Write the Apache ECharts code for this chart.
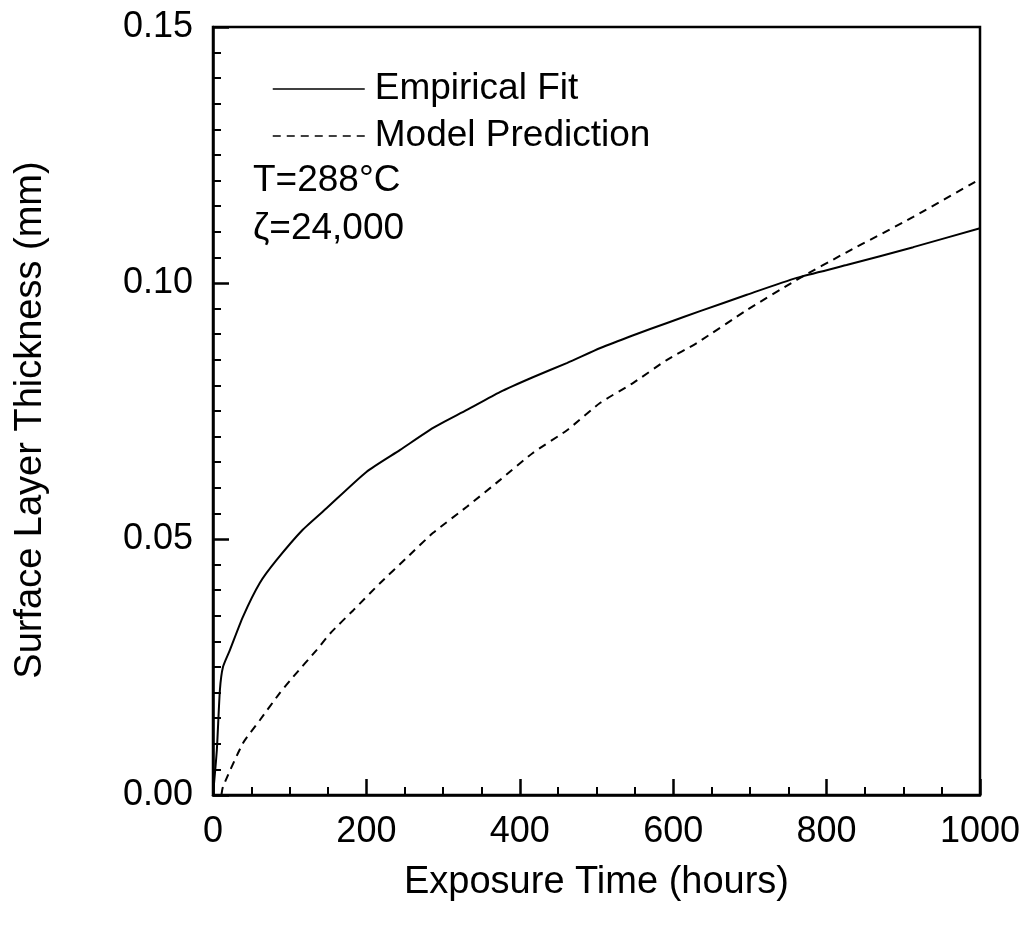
<!DOCTYPE html>
<html>
<head>
<meta charset="utf-8">
<script src="https://cdn.jsdelivr.net/npm/echarts@6/dist/echarts.min.js"></script>
<style>
html,body{margin:0;padding:0;background:#fff;}
#chart{width:1029px;height:931px;}
</style>
</head>
<body>
<div id="chart"></div>
<script>
// Empirical fit (solid): [hours, mm]
const empiricalT = [0, 5, 9, 13, 22, 39, 61, 83, 117, 148, 200, 244, 287, 331, 374, 417, 462, 505, 548, 592, 635, 696, 761, 826, 913, 1000];
const empiricalV = [0, 0.0088, 0.0205, 0.025, 0.0283, 0.0348, 0.0414, 0.0459, 0.0518, 0.056, 0.0631, 0.0674, 0.0717, 0.0752, 0.0787, 0.0816, 0.0844, 0.0873, 0.0898, 0.0922, 0.0945, 0.0977, 0.101, 0.1035, 0.107, 0.1107];
// Model prediction (dashed): [hours, mm]
const modelT = [11, 13, 39, 61, 87, 104, 135, 153, 183, 218, 253, 287, 331, 374, 417, 462, 505, 548, 592, 631, 696, 761, 826, 913, 1000];
const modelV = [0, 0.0016, 0.0101, 0.0146, 0.0199, 0.023, 0.0283, 0.0316, 0.0361, 0.0414, 0.0464, 0.0512, 0.0563, 0.0615, 0.0668, 0.0713, 0.0766, 0.0805, 0.085, 0.0883, 0.0947, 0.1006, 0.106, 0.1129, 0.1203];
const seriesNames = ['Empirical Fit', 'Model Prediction'];
const annotations = ['T=288°C', 'ζ=24,000'];
const xTitle = 'Exposure Time (hours)';
const yTitle = 'Surface Layer Thickness (mm)';

const zip = (a, b) => a.map((v, i) => [v, b[i]]);
const font = 'Liberation Sans, Arial, Helvetica, sans-serif';

const chart = echarts.init(document.getElementById('chart'), null, {renderer: 'canvas'});
chart.setOption({
  animation: false,
  backgroundColor: '#fff',
  grid: {left: 213, right: 49, top: 27, bottom: 136, show: true, borderColor: '#000', borderWidth: 2.5, backgroundColor: 'transparent'},
  legend: {
    orient: 'vertical', left: 267, top: 64,
    itemWidth: 92, itemHeight: 14, itemGap: 7,
    itemStyle: {opacity: 0},
    lineStyle: {width: 1.5},
    textStyle: {fontFamily: font, fontSize: 37, color: '#000', lineHeight: 40, padding: [0, 0, 0, 5]},
    data: seriesNames,
    selectedMode: false
  },
  xAxis: {
    type: 'value', min: 0, max: 1000, interval: 200,
    name: xTitle, nameLocation: 'middle', nameGap: 69,
    nameTextStyle: {fontFamily: font, fontSize: 38, color: '#000'},
    axisLine: {show: true, onZero: false, lineStyle: {color: '#000', width: 2.5}},
    axisTick: {show: true, inside: true, length: 16, lineStyle: {color: '#000', width: 2.5}},
    minorTick: {show: true, splitNumber: 4, length: 8, lineStyle: {color: '#000', width: 2}},
    axisLabel: {fontFamily: font, fontSize: 36, color: '#000', margin: 19, formatter: v => String(v)},
    splitLine: {show: false}
  },
  yAxis: {
    type: 'value', min: 0, max: 0.15, interval: 0.05,
    name: yTitle, nameLocation: 'middle', nameGap: 163, nameRotate: 90,
    nameTextStyle: {fontFamily: font, fontSize: 38, color: '#000', padding: [0, 18, 0, 0]},
    axisLine: {show: true, onZero: false, lineStyle: {color: '#000', width: 2.5}},
    axisTick: {show: true, inside: true, length: 16, lineStyle: {color: '#000', width: 2.5}},
    minorTick: {show: true, splitNumber: 10, length: 8, lineStyle: {color: '#000', width: 2}},
    axisLabel: {fontFamily: font, fontSize: 36, color: '#000', margin: 20, formatter: v => v.toFixed(2)},
    splitLine: {show: false}
  },
  graphic: [
    {type: 'text', left: 253, top: 162, style: {text: annotations[0], font: '37px ' + font, fill: '#000'}},
    {type: 'text', left: 253, top: 210, style: {text: annotations[1], font: '37px ' + font, fill: '#000'}}
  ],
  series: [
    {name: seriesNames[0], type: 'line', data: zip(empiricalT, empiricalV), showSymbol: false, symbol: 'none', smooth: 0.2,
     lineStyle: {color: '#000', width: 2, type: 'solid'}, itemStyle: {color: '#000'}},
    {name: seriesNames[1], type: 'line', data: zip(modelT, modelV), showSymbol: false, symbol: 'none', smooth: 0.2,
     lineStyle: {color: '#000', width: 2, type: [8, 6]}, itemStyle: {color: '#000'}}
  ]
});
</script>
</body>
</html>
